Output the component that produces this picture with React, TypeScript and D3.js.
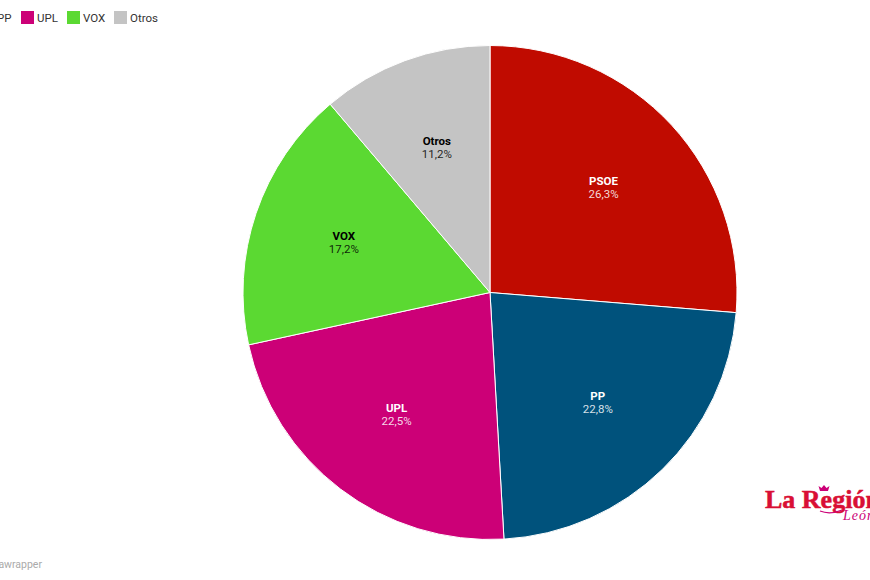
import React from "react";
import * as d3 from "d3";

const categories = ["PSOE", "PP", "UPL", "VOX", "Otros"];
const shares = [26.3, 22.8, 22.5, 17.2, 11.2];
const colors = ["#c00b00", "#00527c", "#cc0077", "#5bd932", "#c4c4c4"];
const labelColors = ["#ffffff", "#ffffff", "#ffffff", "#000000", "#000000"];
const legendStarts = [-66, -19, 21, 67, 114];

const width = 870;
const height = 580;
const cx = 490;
const cy = 292.5;
const radius = 247;
const font = "Roboto, sans-serif";

const App: React.FC = () => {
  const pie = d3
    .pie<number>()
    .sort(null)
    .value((d) => d);
  const arcs = pie(shares);
  const arc = d3
    .arc<d3.PieArcDatum<number>>()
    .innerRadius(0)
    .outerRadius(radius);
  const labelArc = d3
    .arc<d3.PieArcDatum<number>>()
    .innerRadius(radius * 0.625)
    .outerRadius(radius * 0.625);
  const color = d3.scaleOrdinal<string, string>(categories, colors);
  const labelColor = d3.scaleOrdinal<string, string>(categories, labelColors);
  const legendX = d3.scaleOrdinal<string, number>(categories, legendStarts);
  const format = (v: number) => v.toFixed(1).replace(".", ",") + "%";

  return (
    <svg
      width={width}
      height={height}
      viewBox={`0 0 ${width} ${height}`}
      style={{ position: "fixed", left: 0, top: 0, background: "#fff" }}
      fontFamily={font}
    >
      <g>
        {categories.map((c) => (
          <g key={c} transform={`translate(${legendX(c)},11)`}>
            <rect width={13} height={13} fill={color(c)} />
            <text x={16} y={10.5} fontSize={11.5} fill="#333">
              {c}
            </text>
          </g>
        ))}
      </g>

      <g transform={`translate(${cx},${cy})`}>
        {arcs.map((d, i) => (
          <path
            key={categories[i]}
            d={arc(d) ?? ""}
            fill={color(categories[i])}
            stroke="#fff"
            strokeWidth={1}
          />
        ))}
        {arcs.map((d, i) => {
          const [x, y] = labelArc.centroid(d);
          const c = categories[i];
          return (
            <text
              key={c}
              x={x}
              textAnchor="middle"
              fontSize={11.5}
              fill={labelColor(c)}
            >
              <tspan x={x} y={y - 3} fontWeight={700}>
                {c}
              </tspan>
              <tspan x={x} y={y + 10} fillOpacity={0.85}>
                {format(shares[i])}
              </tspan>
            </text>
          );
        })}
      </g>

      <text x={42} y={568} textAnchor="end" fontSize={10.5} fill="#aaa">
        Created with Datawrapper
      </text>

      {/* logo, runs off the right edge like the reference */}
      <g>
        <text
          x={765}
          y={508}
          fontFamily="'Liberation Serif', serif"
          fontWeight={700}
          fontSize={26}
          fill="#d90f35"
          stroke="#d90f35"
          strokeWidth={0.5}
        >
          La Región
        </text>
        <path
          d="M820 491 l-1.5 -5 l3 2 l2.5 -3 l2.5 3 l3 -2 l-1.5 5 z"
          fill="#cc0077"
        />
        <path
          d="M820 511 q10 4 22 -1"
          fill="none"
          stroke="#cc0077"
          strokeWidth={1.2}
        />
        <text
          x={843}
          y={520}
          fontFamily="'Liberation Serif', serif"
          fontStyle="italic"
          fontSize={14}
          letterSpacing={1}
          fill="#cc0077"
        >
          León
        </text>
      </g>
    </svg>
  );
};

export default App;
